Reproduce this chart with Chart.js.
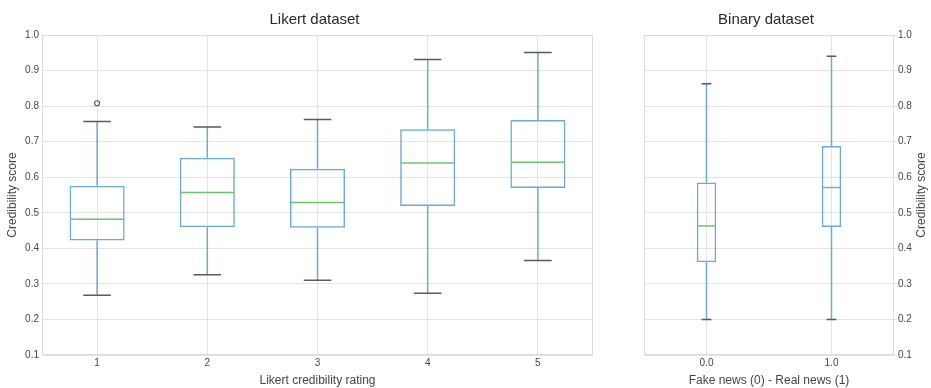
<!DOCTYPE html>
<html>
<head>
<meta charset="utf-8">
<script src="https://cdn.jsdelivr.net/npm/chart.js@4.4.0/dist/chart.umd.min.js"></script>
<style>
  body { margin: 0; background: #fff; }
  #wrap { position: relative; width: 931px; height: 388px; }
  #likert { position: absolute; left: 0; top: 0; }
  #binary { position: absolute; left: 615px; top: 0; }
</style>
</head>
<body>
<div id="wrap">
  <canvas id="likert" width="610" height="388"></canvas>
  <canvas id="binary" width="316" height="388"></canvas>
</div>
<script>
// Likert dataset (rating 1..5)
const likertLabels = ['1', '2', '3', '4', '5'];
const likertMin    = [0.268, 0.326, 0.310, 0.274, 0.366];
const likertQ1     = [0.422, 0.459, 0.458, 0.519, 0.570];
const likertMedian = [0.482, 0.557, 0.529, 0.640, 0.642];
const likertQ3     = [0.576, 0.655, 0.624, 0.735, 0.761];
const likertMax    = [0.757, 0.741, 0.762, 0.931, 0.951];
const likertOutliers = [[0.808], [], [], [], []];

// Binary dataset (fake 0 / real 1)
const binaryLabels = ['0.0', '1.0'];
const binaryMin    = [0.200, 0.200];
const binaryQ1     = [0.361, 0.460];
const binaryMedian = [0.463, 0.571];
const binaryQ3     = [0.585, 0.688];
const binaryMax    = [0.863, 0.940];
const binaryOutliers = [[], []];

const yTicks = [0.1, 0.2, 0.3, 0.4, 0.5, 0.6, 0.7, 0.8, 0.9, 1.0];

const BLUE = 'rgb(110,170,215)';
const GREEN = 'rgb(110,195,110)';
const CAP = 'rgb(90,90,90)';
const GRID = 'rgb(228,228,228)';
const TEXT = 'rgb(70,70,70)';
const FONT = "'Liberation Sans', Arial, sans-serif";

Chart.defaults.font.family = FONT;
Chart.defaults.color = TEXT;

// whiskers, caps, medians, outliers, frame and titles, drawn from the scales
const boxPlugin = {
  id: 'boxExtras',
  beforeDatasetsDraw(chart) {
    const a = chart.chartArea, ctx = chart.ctx;
    ctx.save();
    ctx.strokeStyle = 'rgb(220,220,220)';
    ctx.lineWidth = 1;
    ctx.strokeRect(a.left + 0.5, a.top + 0.5, a.right - a.left - 1, a.bottom - a.top - 1);
    ctx.restore();
  },
  afterDatasetsDraw(chart, args, opts) {
    const ctx = chart.ctx, y = chart.scales.y, a = chart.chartArea;
    const meta = chart.getDatasetMeta(0);
    ctx.save();
    meta.data.forEach((bar, i) => {
      const x = bar.x, half = bar.width / 2, capHalf = bar.width / 4;
      const yMin = y.getPixelForValue(opts.min[i]);
      const yMax = y.getPixelForValue(opts.max[i]);
      const yQ1 = y.getPixelForValue(opts.q1[i]);
      const yQ3 = y.getPixelForValue(opts.q3[i]);
      const yMed = y.getPixelForValue(opts.median[i]);
      ctx.lineWidth = 1.5;
      ctx.strokeStyle = BLUE;
      ctx.beginPath();
      ctx.moveTo(x, yQ3); ctx.lineTo(x, yMax);
      ctx.moveTo(x, yQ1); ctx.lineTo(x, yMin);
      ctx.stroke();
      ctx.strokeStyle = CAP;
      ctx.beginPath();
      ctx.moveTo(x - capHalf, yMax); ctx.lineTo(x + capHalf, yMax);
      ctx.moveTo(x - capHalf, yMin); ctx.lineTo(x + capHalf, yMin);
      ctx.stroke();
      ctx.strokeStyle = GREEN;
      ctx.beginPath();
      ctx.moveTo(x - half + 1, yMed); ctx.lineTo(x + half - 1, yMed);
      ctx.stroke();
      ctx.strokeStyle = CAP;
      ctx.lineWidth = 1.2;
      (opts.outliers[i] || []).forEach(v => {
        ctx.beginPath();
        ctx.arc(x, y.getPixelForValue(v), 2.5, 0, Math.PI * 2);
        ctx.stroke();
      });
    });
    ctx.textAlign = 'center';
    ctx.textBaseline = 'middle';
    ctx.fillStyle = 'rgb(40,40,40)';
    ctx.font = '15px ' + FONT;
    ctx.fillText(opts.title, (a.left + a.right) / 2 - 3, 20);
    if (opts.rightTitle) {
      ctx.fillStyle = TEXT;
      ctx.font = '12px ' + FONT;
      ctx.translate(opts.rightTitleX, (a.top + a.bottom) / 2);
      ctx.rotate(-Math.PI / 2);
      ctx.fillText(opts.rightTitle, 0, 0);
    }
    ctx.restore();
  }
};

function makeBoxChart(canvasId, labels, mins, q1, med, q3, maxs, outliers, cfg) {
  const boxes = labels.map((l, i) => [q1[i], q3[i]]);
  return new Chart(document.getElementById(canvasId), {
    type: 'bar',
    data: {
      labels: labels,
      datasets: [{
        data: boxes,
        backgroundColor: 'rgba(0,0,0,0)',
        borderColor: BLUE,
        borderWidth: 1.5,
        borderSkipped: false,
        categoryPercentage: 1,
        barPercentage: cfg.barPct
      }]
    },
    options: {
      responsive: false,
      animation: false,
      layout: { padding: cfg.padding },
      plugins: {
        legend: { display: false },
        tooltip: { enabled: false },
        title: { display: false },
        boxExtras: {
          min: mins, q1: q1, median: med, q3: q3, max: maxs, outliers: outliers,
          title: cfg.title, rightTitle: cfg.rightTitle, rightTitleX: cfg.rightTitleX
        }
      },
      scales: {
        x: {
          offset: true,
          afterFit: s => { s.height = 33; },
          grid: { color: GRID, drawTicks: false, offset: false },
          border: { display: false },
          ticks: { padding: 2, font: { size: 10 } },
          title: { display: true, text: cfg.xTitle, font: { size: 12 }, padding: { top: 5, bottom: 0 } }
        },
        y: {
          position: cfg.yPos,
          min: 0.1,
          max: 1.0,
          afterBuildTicks: s => { s.ticks = yTicks.map(v => ({ value: v })); },
          afterFit: s => { s.width = cfg.yWidth; },
          grid: { color: GRID, drawTicks: cfg.yPos === 'right', tickLength: 3 },
          border: { display: false },
          ticks: { padding: cfg.yPos === 'right' ? 1 : 3, font: { size: 10 }, callback: v => v.toFixed(1) },
          title: { display: cfg.yPos === 'left', text: 'Credibility score', font: { size: 12 }, padding: { top: 5, bottom: 2 } }
        }
      }
    },
    plugins: [boxPlugin]
  });
}

makeBoxChart('likert', likertLabels, likertMin, likertQ1, likertMedian, likertQ3, likertMax, likertOutliers, {
  title: 'Likert dataset',
  xTitle: 'Likert credibility rating',
  yPos: 'left',
  yWidth: 42,
  barPct: 0.5,
  padding: { left: 0, right: 17, top: 35, bottom: 0 }
});

makeBoxChart('binary', binaryLabels, binaryMin, binaryQ1, binaryMedian, binaryQ3, binaryMax, binaryOutliers, {
  title: 'Binary dataset',
  xTitle: 'Fake news (0) - Real news (1)',
  yPos: 'right',
  yWidth: 37,
  barPct: 0.156,
  padding: { left: 29, right: 0, top: 35, bottom: 0 },
  rightTitle: 'Credibility score',
  rightTitleX: 307
});
</script>
</body>
</html>
